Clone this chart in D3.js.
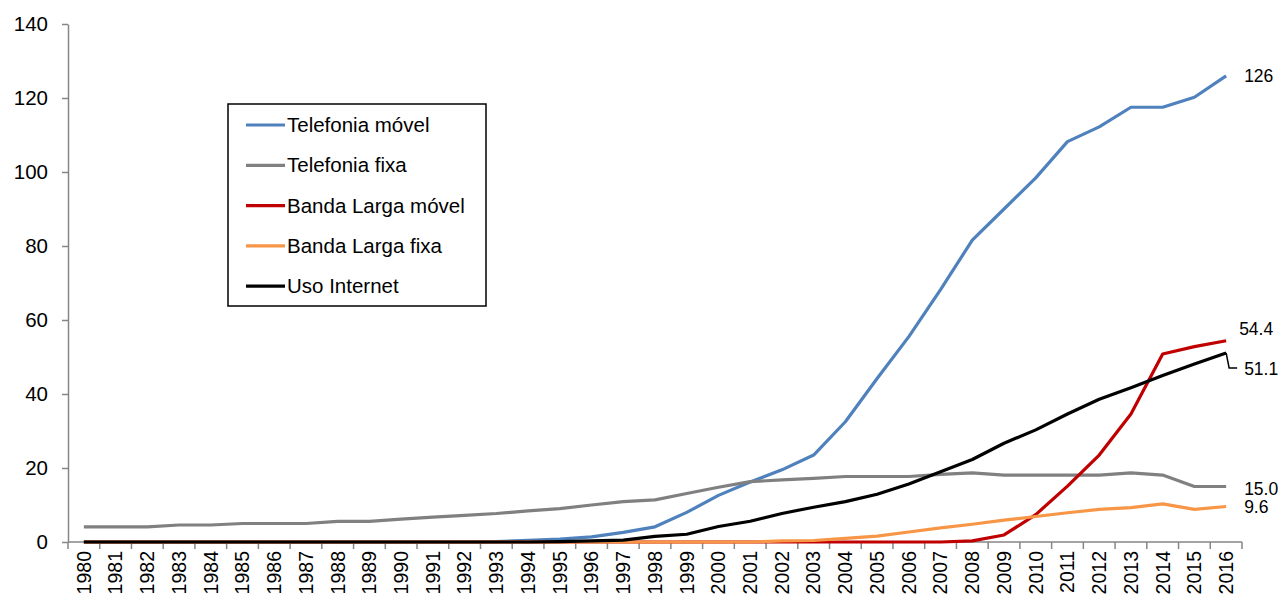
<!DOCTYPE html>
<html>
<head>
<meta charset="utf-8">
<script src="https://cdn.jsdelivr.net/npm/d3@7"></script>
<style>
  body { margin: 0; background: #fff; }
  svg { display: block; font-family: "Liberation Sans", Arial, sans-serif; }
</style>
</head>
<body>
<svg width="1281" height="605"></svg>
<script>
const svg_width = 1281;
const svg_height = 605;

const years = d3.range(1980, 2017).map(String);

const telefonia_movel = [0, 0, 0, 0, 0, 0, 0, 0, 0, 0, 0, 0, 0, 0.1, 0.45, 0.8, 1.4, 2.6, 4.1,
  8.0, 12.6, 16.2, 19.5, 23.5, 32.5, 44.2, 55.5, 68.2, 81.6, 90.0, 98.4, 108.2, 112.2, 117.5,
  117.5, 120.2, 126];
const telefonia_fixa = [4.1, 4.1, 4.1, 4.6, 4.6, 5.0, 5.0, 5.0, 5.6, 5.6, 6.2, 6.7, 7.2, 7.7,
  8.4, 9.0, 10.0, 10.9, 11.4, 13.1, 14.8, 16.3, 16.8, 17.2, 17.7, 17.7, 17.7, 18.3, 18.7, 18.1,
  18.1, 18.1, 18.1, 18.7, 18.1, 15.0, 15.0];
const banda_larga_movel = [0, 0, 0, 0, 0, 0, 0, 0, 0, 0, 0, 0, 0, 0, 0, 0, 0, 0, 0, 0, 0, 0,
  0, 0, 0, 0, 0, 0, 0.3, 1.9, 7.4, 15.1, 23.5, 34.6, 50.8, 52.8, 54.4];
const banda_larga_fixa = [0, 0, 0, 0, 0, 0, 0, 0, 0, 0, 0, 0, 0, 0, 0, 0, 0, 0, 0, 0, 0, 0,
  0.3, 0.4, 1.0, 1.6, 2.7, 3.8, 4.8, 5.9, 6.9, 7.9, 8.8, 9.3, 10.3, 8.8, 9.6];
const uso_internet = [0, 0, 0, 0, 0, 0, 0, 0, 0, 0, 0, 0, 0, 0, 0, 0.1, 0.3, 0.5, 1.5, 2.1,
  4.2, 5.6, 7.7, 9.4, 10.9, 12.9, 15.7, 19.0, 22.3, 26.7, 30.3, 34.6, 38.6, 41.7, 45.0, 48.1, 51.1];

const series_names = ["Telefonia móvel", "Telefonia fixa", "Banda Larga móvel", "Banda Larga fixa", "Uso Internet"];
const series_values = [telefonia_movel, telefonia_fixa, banda_larga_movel, banda_larga_fixa, uso_internet];
const series_colors = ["#4f81bd", "#808080", "#c00000", "#f79646", "#000000"];
const end_labels = ["126", "15.0", "54.4", "9.6", "51.1"];

const y_ticks = d3.range(0, 141, 20);

const plot_left = 68;
const plot_right = 1242;
const plot_top = 24;
const plot_bottom = 542;

var svg = d3.select("svg");

var x = d3.scaleBand().domain(years).range([plot_left, plot_right]).padding(0);
var y = d3.scaleLinear().domain([0, 140]).range([plot_bottom, plot_top]);

function drawAxes() {
  // y axis, excel style grey line with outside ticks
  var y_axis = svg.append("g")
    .attr("transform", `translate(${plot_left},0)`)
    .call(d3.axisLeft(y).tickValues(y_ticks).tickSize(6).tickPadding(14).tickSizeOuter(0));
  y_axis.select(".domain").attr("stroke", "#868686").attr("stroke-width", 1.5);
  y_axis.selectAll(".tick line").attr("stroke", "#868686").attr("stroke-width", 1.5);
  y_axis.selectAll(".tick text")
    .attr("font-size", 20.5)
    .attr("font-family", "Liberation Sans")
    .attr("fill", "#000");

  // x axis: labels at category centres, ticks between categories
  var x_axis = svg.append("g")
    .attr("transform", `translate(0,${plot_bottom})`)
    .call(d3.axisBottom(x).tickSize(0).tickPadding(0));
  x_axis.select(".domain").remove();
  x_axis.selectAll(".tick text")
    .attr("font-size", 19.5)
    .attr("font-family", "Liberation Sans")
    .attr("fill", "#000")
    .attr("text-anchor", "end")
    .attr("transform", "rotate(-90)")
    .attr("dy", "0.35em")
    .attr("dx", "-9")
    .attr("y", 0)
    .attr("x", 0);

  svg.append("line")
    .attr("x1", plot_left).attr("x2", plot_right)
    .attr("y1", plot_bottom).attr("y2", plot_bottom)
    .attr("stroke", "#868686").attr("stroke-width", 1.5);

  var boundaries = years.map(d => x(d)).concat([plot_right]);
  svg.append("g").selectAll("line").data(boundaries).enter().append("line")
    .attr("x1", d => d).attr("x2", d => d)
    .attr("y1", plot_bottom).attr("y2", plot_bottom + 7)
    .attr("stroke", "#868686").attr("stroke-width", 1.5);
}

function drawLines() {
  var line = d3.line()
    .x((d, i) => x(years[i]) + x.bandwidth() / 2)
    .y(d => y(d));

  svg.append("g").selectAll("path")
    .data(series_values)
    .enter().append("path")
    .attr("d", d => line(d))
    .attr("fill", "none")
    .attr("stroke", (d, i) => series_colors[i])
    .attr("stroke-width", 3.2)
    .attr("stroke-linejoin", "round");

  // value labels at the end of every series
  var last_x = x(years[years.length - 1]) + x.bandwidth() / 2;
  var label_offsets = [[18, 0], [18, 2], [13, -12], [18, 0], [18, 16]];
  var labels = svg.append("g");
  series_values.forEach(function (values, i) {
    var v = values[values.length - 1];
    labels.append("text")
      .attr("x", last_x + label_offsets[i][0])
      .attr("y", y(v) + label_offsets[i][1])
      .attr("dy", "0.35em")
      .attr("font-size", 17.5)
      .attr("fill", "#000")
      .text(end_labels[i]);
  });

  // leader line for the Uso Internet label
  var v_end = uso_internet[uso_internet.length - 1];
  labels.append("path")
    .attr("d", `M ${last_x} ${y(v_end)} L ${last_x + 3} ${y(v_end) + 15} L ${last_x + 11} ${y(v_end) + 15}`)
    .attr("fill", "none")
    .attr("stroke", "#000")
    .attr("stroke-width", 1.5);
}

function drawLegend() {
  var legend = svg.append("g").attr("transform", "translate(228,104)");
  legend.append("rect")
    .attr("width", 258).attr("height", 202)
    .attr("fill", "#fff").attr("stroke", "#000").attr("stroke-width", 1.5);

  var rows = legend.selectAll(".legend-row").data(series_names).enter()
    .append("g").attr("class", "legend-row")
    .attr("transform", (d, i) => `translate(0,${21 + i * 40.3})`);

  rows.append("line")
    .attr("x1", 18).attr("x2", 57)
    .attr("stroke", (d, i) => series_colors[i])
    .attr("stroke-width", 3.2);

  rows.append("text")
    .attr("x", 59)
    .attr("dy", "0.35em")
    .attr("font-size", 20.5)
    .attr("fill", "#000")
    .text(d => d);
}

drawAxes();
drawLines();
drawLegend();
</script>
</body>
</html>
